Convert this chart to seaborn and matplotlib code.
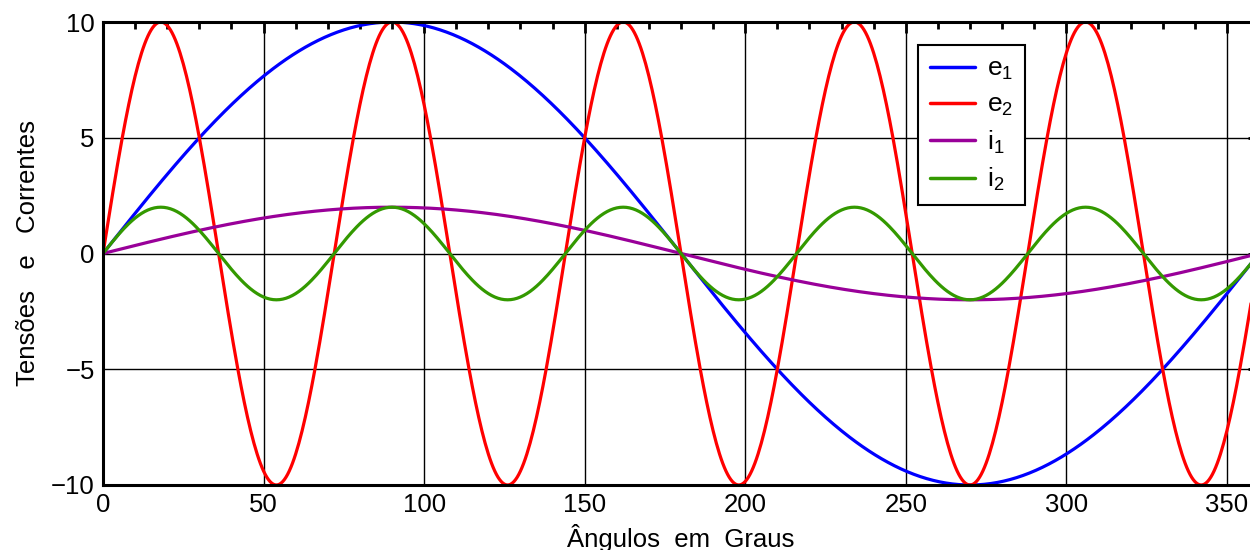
import numpy as np
import pandas as pd
import matplotlib
matplotlib.use("Agg")
import matplotlib.pyplot as plt
import seaborn as sns
from matplotlib.ticker import MultipleLocator

# --- data (sinusoidal waveforms shown in the chart) ---
series_names = [r"$\mathregular{e_1}$", r"$\mathregular{e_2}$", r"$\mathregular{i_1}$", r"$\mathregular{i_2}$"]
amplitudes = [10, 10, 2, 2]
harmonics = [1, 5, 1, 5]
colors = ["#0000FF", "#FF0000", "#990099", "#339900"]
angles = np.arange(0, 360.5, 0.5)
x_ticks = [0, 50, 100, 150, 200, 250, 300, 350]
y_ticks = [-10, -5, 0, 5, 10]

frames = []
for name, a, h in zip(series_names, amplitudes, harmonics):
    frames.append(pd.DataFrame({"ang": angles,
                                "val": a * np.sin(np.deg2rad(h * angles)),
                                "serie": name}))
df = pd.concat(frames, ignore_index=True)

sns.set_theme(style="white")
plt.rcParams["font.family"] = ["Liberation Sans", "DejaVu Sans"]
plt.rcParams["mathtext.fontset"] = "custom"
plt.rcParams["mathtext.rm"] = "Liberation Sans"
plt.rcParams["text.color"] = "black"
plt.rcParams["axes.labelcolor"] = "black"

fig = plt.figure(figsize=(12.5, 5.5), dpi=100)
ax = fig.add_axes([103 / 1250, 1 - 485 / 550, 1156 / 1250, 463 / 550])

sns.lineplot(data=df, x="ang", y="val", hue="serie", palette=colors,
             hue_order=series_names, linewidth=2.3, ax=ax, legend=True)

ax.set_xlim(0, 360)
ax.set_ylim(-10, 10)
ax.set_xticks(x_ticks)
ax.set_yticks(y_ticks)
ax.set_yticklabels(["\u221210", "\u22125", "0", "5", "10"])
ax.xaxis.set_minor_locator(MultipleLocator(10))
ax.yaxis.set_minor_locator(MultipleLocator(1))
ax.grid(True, which="major", color="black", linewidth=1.0)
ax.set_axisbelow(True)

for s in ax.spines.values():
    s.set_color("black")
    s.set_linewidth(2.2)

ax.tick_params(which="both", direction="in", top=True, right=True, colors="black",
               labelsize=18.5, pad=6)
ax.tick_params(which="major", length=8, width=2)
ax.tick_params(which="minor", length=5, width=2)

ax.set_xlabel("Ângulos  em  Graus", fontsize=18.5, labelpad=5)
ax.set_ylabel("Tensões   e   Correntes", fontsize=18.5, labelpad=8)

leg = ax.legend(loc="upper left", bbox_to_anchor=(0.705, 0.950), borderaxespad=0,
                fontsize=19, frameon=True, fancybox=False, edgecolor="black",
                handlelength=1.7, labelspacing=0.4, borderpad=0.45, handletextpad=0.45)
leg.get_frame().set_linewidth(1.5)
leg.get_frame().set_alpha(1)
for line in leg.get_lines():
    line.set_linewidth(2.5)

fig.savefig("out.png", dpi=100)
